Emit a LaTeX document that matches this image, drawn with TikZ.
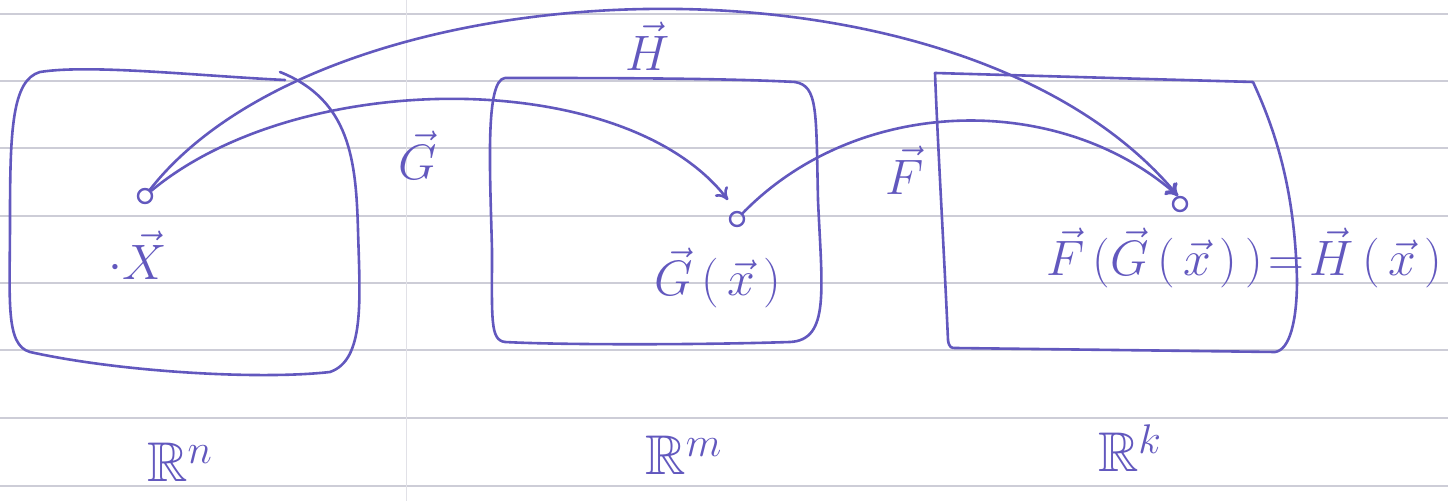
\documentclass[tikz,border=0pt]{standalone}
\usepackage{amssymb}
\usetikzlibrary{arrows.meta}
\definecolor{ink}{RGB}{98,88,190}
\definecolor{rule}{RGB}{205,205,215}
\begin{document}
\begin{tikzpicture}[x=0.5pt,y=-0.5pt,
  pen/.style={draw=ink,line width=1.3pt,line cap=round,line join=round},
  arr/.style={pen,-{To[length=6pt,width=8pt]}},
  lbl/.style={text=ink,font=\fontsize{28}{32}\selectfont,inner sep=0pt},
  pt/.style={circle,draw=ink,line width=1.2pt,minimum size=7pt,inner sep=0pt}]
\useasboundingbox (0,0) rectangle (1448,501);
% ruled paper
\foreach \y in {14,81,148,216,283,350,418,486}
  \draw[rule,line width=0.6pt] (0,\y) -- (1448,\y);
\draw[rule!60,line width=0.5pt] (406,0) -- (406,501);
% boxes
\draw[pen] (285,80) .. controls (200,76) and (90,64) .. (40,72)
  .. controls (12,80) and (10,130) .. (10,220)
  .. controls (10,300) and (5,345) .. (30,352)
  .. controls (120,372) and (260,380) .. (330,372)
  .. controls (365,360) and (360,300) .. (358,230)
  .. controls (356,160) and (350,100) .. (280,72);
\draw[pen] (505,78) .. controls (600,78) and (720,78) .. (795,82)
  .. controls (818,86) and (816,110) .. (818,200)
  .. controls (822,290) and (830,340) .. (790,342)
  .. controls (700,345) and (560,345) .. (505,342)
  .. controls (490,340) and (492,320) .. (492,250)
  .. controls (490,170) and (485,80) .. (505,78);
\draw[pen] (1253,82) -- (935,73) .. controls (938,150) and (944,250) .. (948,340)
  .. controls (949,348) and (952,348) .. (955,348)
  -- (1275,352) .. controls (1290,350) and (1297,320) .. (1297,280)
  .. controls (1295,200) and (1280,140) .. (1253,82);
% points
\node[pt] (x) at (145,196) {};
\node[pt] (gx) at (737,219) {};
\node[pt] (fx) at (1180,204) {};
\coordinate (gtip) at (728,200);
\coordinate (ftip) at (1178,196);
% connectors
\draw[arr] (x) .. controls (330,-40) and (962,-64) .. (ftip);
\draw[arr] (x) .. controls (300,67) and (625,67) .. (gtip);
\draw[arr] (gx) .. controls (860,93) and (1062,93) .. (ftip);
% labels
\node[lbl] (lx) at (138,255) {$\cdot\vec X$};
\node[lbl] (lH) at (648,46) {$\vec H$};
\node[lbl] (lG) at (418,155) {$\vec G$};
\node[lbl] (lF) at (905,170) {$\vec F$};
\node[lbl] (lgx) at (718,278) {$\vec G\,(\,\vec x\,)$};
\node[lbl] (lfx) at (1244,258) {$\vec F\,(\vec G\,(\,\vec x\,)\,)\!=\!\vec H\,(\,\vec x\,)$};
\node[lbl] (rn) at (180,462) {$\mathbb{R}^n$};
\node[lbl] (rm) at (684,455) {$\mathbb{R}^m$};
\node[lbl] (rk) at (1130,448) {$\mathbb{R}^k$};
\end{tikzpicture}
\end{document}
